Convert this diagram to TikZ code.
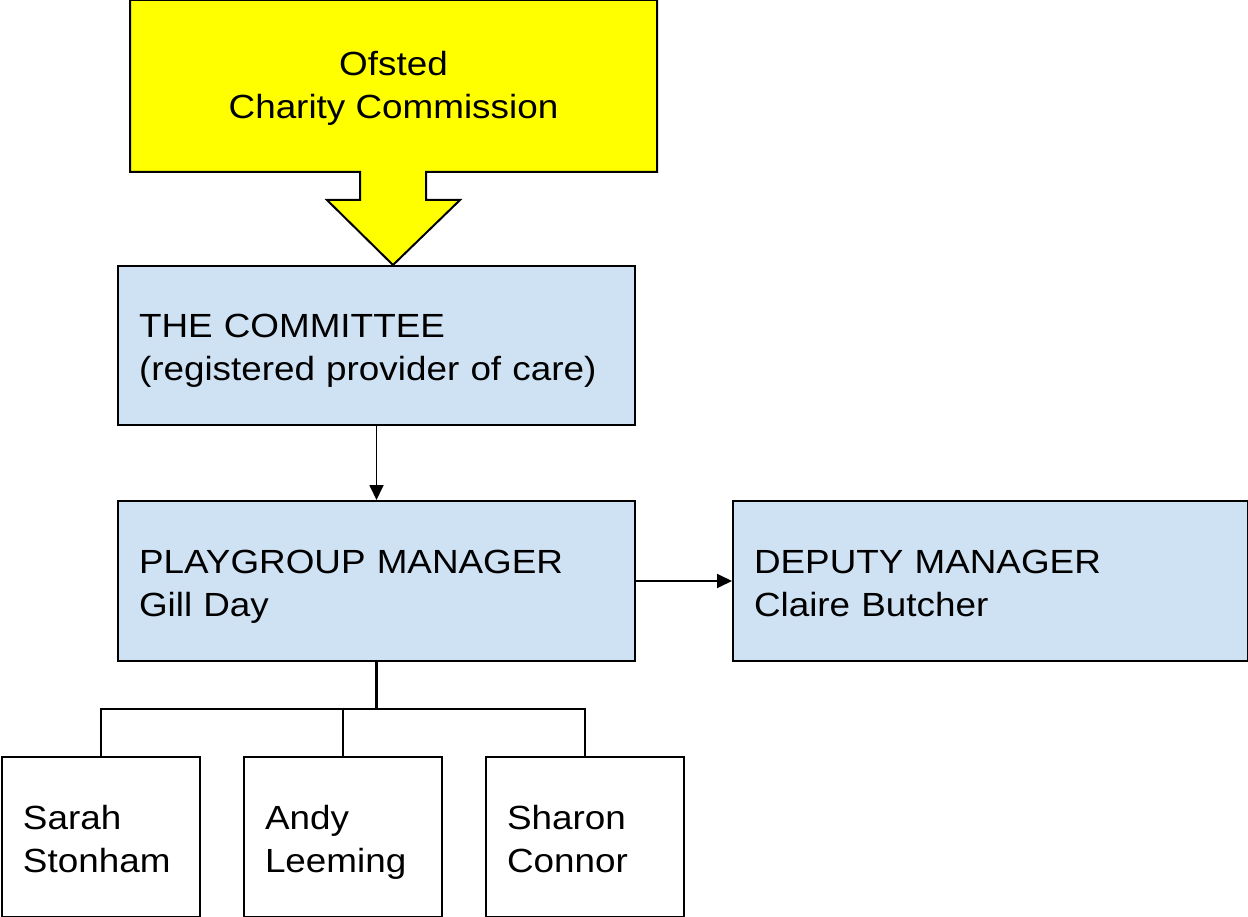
\documentclass[tikz,border=0pt]{standalone}
\usepackage{fontspec}
\setmainfont{Liberation Sans}[FakeStretch=1.1]
\usetikzlibrary{arrows.meta}
\definecolor{boxblue}{HTML}{CFE2F3}
\definecolor{ofyellow}{HTML}{FFFF00}
\begin{document}
\begin{tikzpicture}[x=1pt,y=-1pt,
  txt/.style={font=\fontsize{33.5}{43}\selectfont,text height=30pt,text depth=46pt},
  bluebox/.style={txt,draw=black,line width=2pt,fill=boxblue,rectangle,
    inner xsep=21pt,inner ysep=0pt,align=left,minimum height=160pt},
  staffbox/.style={txt,draw=black,line width=2pt,fill=white,rectangle,
    inner xsep=21pt,inner ysep=0pt,align=left,minimum height=160pt,
    text width=156pt,minimum width=198pt},
  conn/.style={line width=1.8pt,-{Triangle[length=15pt,width=14pt]}},
  treeline/.style={line width=1.4pt},
  trunk/.style={line width=2.6pt}]
\useasboundingbox (0,0) rectangle (1248,917);
% Ofsted box with block arrow
\coordinate (ofsted) at (393.5,86);
\node[bluebox,text width=475pt,minimum width=517pt,minimum height=159pt] (committee) at (376.5,345.5) {THE COMMITTEE\\(registered provider of care)};
\filldraw[fill=ofyellow,draw=black,line width=2pt,line join=miter]
  (130,0) -- (657,0) -- (657,172)
  -- (426,172) -- (426,200) -- (460,200) -- (committee.north -| 393,0)
  -- (327,200) -- (360,200) -- (360,172) -- (130,172) -- cycle;
\node[txt,text height=66pt,text depth=0pt,align=center,inner sep=0pt] (ofstedtext) at (ofsted) {Ofsted\\Charity Commission};
\node[bluebox,text width=475pt,minimum width=517pt] (manager) at (376.5,581) {PLAYGROUP MANAGER\\Gill Day};
\node[bluebox,text width=473pt,minimum width=515pt] (deputy) at (990.5,581) {DEPUTY MANAGER\\Claire Butcher};
\node[staffbox] (s1) at (101,837) {Sarah\\Stonham};
\node[staffbox] (s2) at (343,837) {Andy\\Leeming};
\node[staffbox] (s3) at (585,837) {Sharon\\Connor};
\draw[conn] (committee.south) -- (manager.north);
\draw[conn] (manager.east) -- (deputy.west);
\coordinate (j) at (376.5,709);
\draw[treeline] (s1.north) |- (j) -| (s3.north);
\draw[treeline] (s2.north) -- (s2.north |- j);
\draw[trunk] (manager.south) -- (j);
\end{tikzpicture}
\end{document}
